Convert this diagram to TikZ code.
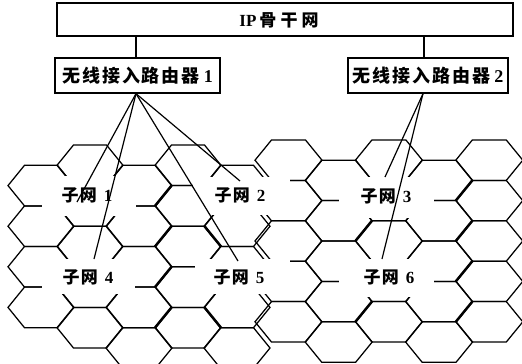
\documentclass[tikz,border=0pt]{standalone}
\usepackage{fontspec}
\setmainfont{Liberation Serif}
\newfontfamily\cjkR{Noto Sans CJK SC}[LetterSpace=11]
\newfontfamily\cjkT{Noto Sans CJK SC}[LetterSpace=24]
\newfontfamily\cjkS{Noto Sans CJK SC}[LetterSpace=8]
\newcommand\dg[1]{{\rmfamily\bfseries #1}}
% hexagon: cx cy halfedge halfwidth halfheight
\newcommand\hexat[5]{%
  \draw[hexline] (#1-#4,#2) -- (#1-#3,#2-#5) -- (#1+#3,#2-#5) -- (#1+#4,#2)
    -- (#1+#3,#2+#5) -- (#1-#3,#2+#5) -- cycle;}
\tikzset{
  hexline/.style={line width=1.25pt, line join=miter},
  thickedge/.style={line width=2.5pt},
  mask/.style={fill=white, draw=none},
  boxnode/.style={draw, line width=1.3pt, inner sep=0pt},
  routertext/.style={font=\cjkR\bfseries\fontsize{18}{18}\selectfont},
  sublabel/.style={font=\cjkS\bfseries\fontsize{17}{17}\selectfont, inner sep=0pt},
  link/.style={line width=1.2pt},
}
\begin{document}
\begin{tikzpicture}[x=1pt,y=-1pt]
\useasboundingbox (0,0) rectangle (522,364);
% ---- left part of the honeycomb
\foreach \k/\n in {0/3,1/4,2/4,3/4,4/4}{
  \foreach \j in {0,...,\n}{
    \pgfmathsetmacro\cx{41+49*\k}
    \pgfmathsetmacro\cy{ifthenelse(mod(\k,2)==1,165.3,185.6)+40.6*\j}
    \hexat{\cx}{\cy}{16.5}{33}{20.3}
  }
}
% ---- right part of the honeycomb
\foreach \k in {5,...,9}{
  \foreach \j in {0,...,4}{
    \pgfmathsetmacro\cx{288.5+50.2*(\k-5)}
    \pgfmathsetmacro\cy{ifthenelse(mod(\k,2)==1,160.2,180.4)+40.4*\j}
    \hexat{\cx}{\cy}{17}{33.5}{20.2}
  }
}
% ---- heavy cluster borders
\foreach \j in {1,...,4}{
  \pgfmathsetmacro\cy{165.3+40.6*\j}
  \draw[thickedge] (155,\cy) -- (171.5,\cy-20.3);
}
\foreach \j in {2,4}{
  \pgfmathsetmacro\cy{165.3+40.6*\j}
  \draw[thickedge] (204.5,\cy-20.3) -- (221,\cy);
  \pgfmathsetmacro\cz{160.2+40.4*\j}
  \draw[thickedge] (355.4,\cz) -- (371.9,\cz-20.2);
}
\foreach \j in {1,...,4}{
  \pgfmathsetmacro\cz{160.2+40.4*\j}
  \draw[thickedge] (455.8,\cz) -- (472.3,\cz-20.2);
}
% ---- cleared areas round the labels
\fill[mask] (42,176) rectangle (136,216);
\fill[mask] (193,177) rectangle (290,215);
\fill[mask] (339,177) rectangle (434,218);
\fill[mask] (42,259) rectangle (135,294);
\fill[mask] (195,259) rectangle (290,294);
\fill[mask] (339,259) rectangle (434,297);
% ---- subnet labels
\node[sublabel] (s1) at (87,195) {子网\hspace{7pt}\dg{1}};
\node[sublabel] (s2) at (240,195) {子网\hspace{7pt}\dg{2}};
\node[sublabel] (s3) at (386,196) {子网\hspace{7pt}\dg{3}};
\node[sublabel] (s4) at (88,277) {子网\hspace{7pt}\dg{4}};
\node[sublabel] (s5) at (239,277) {子网\hspace{7pt}\dg{5}};
\node[sublabel] (s6) at (389,277) {子网\hspace{7pt}\dg{6}};
% ---- boxes
\node[boxnode, minimum width=456pt, minimum height=33pt] (ip) at (285,19.5) {};
\node[font=\cjkT\bfseries\fontsize{17}{17}\selectfont, inner sep=0pt] (iptext) at (279,20) {\dg{IP}\hspace{3pt}骨干网};
\node[boxnode, minimum width=165pt, minimum height=35pt, routertext] (r1) at (137.5,75.5) {无线接入路由器\hspace{4pt}\dg{1}};
\node[boxnode, minimum width=160pt, minimum height=35pt, routertext] (r2) at (428,75.5) {无线接入路由器\hspace{4pt}\dg{2}};
\draw[link] ([xshift=-1.5pt]r1.north) -- ([xshift=-1.5pt]r1.north |- ip.south);
\draw[link] ([xshift=-4pt]r2.north) -- ([xshift=-4pt]r2.north |- ip.south);
% ---- radio links
\coordinate (o1) at ([xshift=-1.5pt]r1.south);
\coordinate (o2) at ([xshift=-5pt]r2.south);
\coordinate (e1) at (77,202);
\coordinate (e2) at (240,181);
\coordinate (e3) at (385,177);
\coordinate (e4) at (94,259);
\coordinate (e5) at (238,261);
\coordinate (e6) at (382,259);
\draw[link] (o1) -- (e1);
\draw[link] (o1) -- (e2);
\draw[link] (o1) -- (e4);
\draw[link] (o1) -- (e5);
\draw[link] (o2) -- (e3);
\draw[link] (o2) -- (e6);
\end{tikzpicture}
\end{document}
